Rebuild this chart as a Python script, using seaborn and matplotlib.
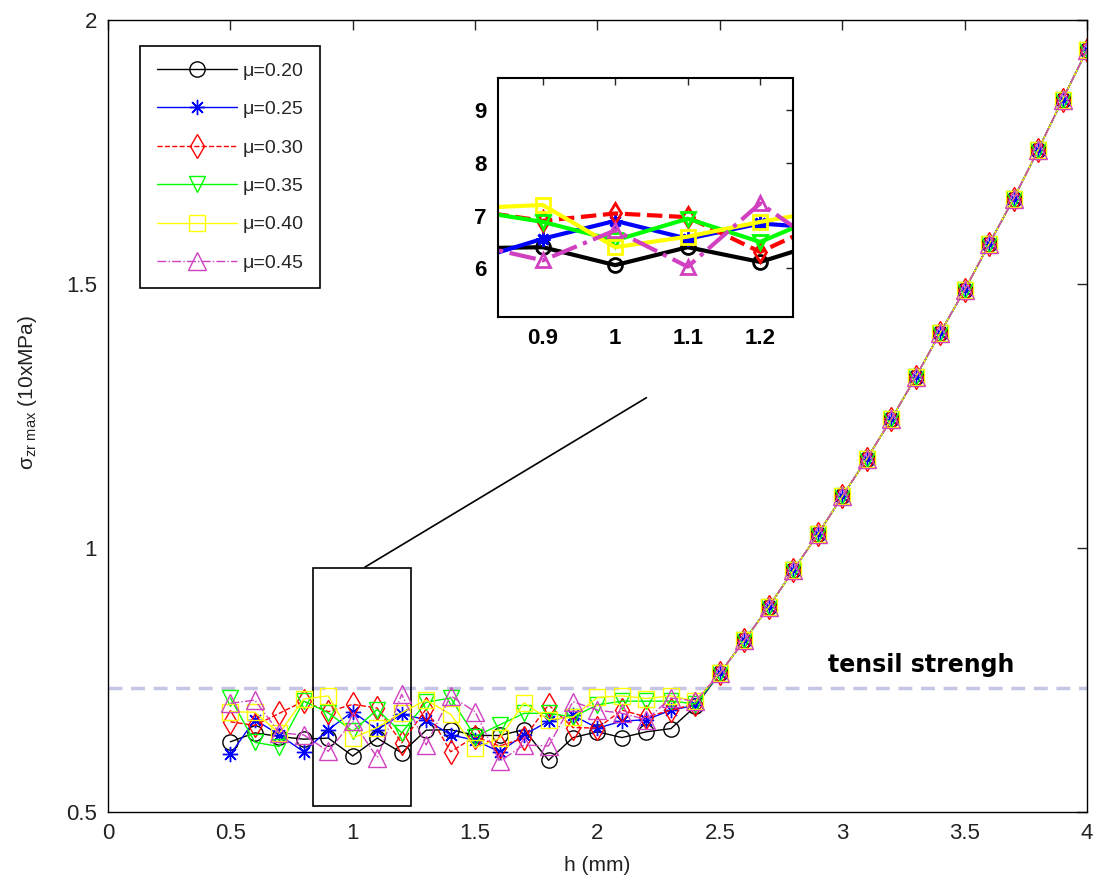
import numpy as np
import pandas as pd
import matplotlib
matplotlib.use("Agg")
import matplotlib.pyplot as plt
from matplotlib.patches import Rectangle
import seaborn as sns

# h (mm)
h_low = [0.5, 0.6, 0.7, 0.8, 0.9, 1.0, 1.1, 1.2, 1.3, 1.4,
         1.5, 1.6, 1.7, 1.8, 1.9, 2.0, 2.1, 2.2, 2.3, 2.4]
h_high = [2.5, 2.6, 2.7, 2.8, 2.9, 3.0, 3.1, 3.2, 3.3, 3.4,
          3.5, 3.6, 3.7, 3.8, 3.9, 4.0]

# shared part of all curves above h = 2.5
s_high = [0.763, 0.825, 0.889, 0.958, 1.026, 1.098, 1.169, 1.244, 1.324, 1.408,
          1.489, 1.576, 1.662, 1.754, 1.850, 1.944]

s_mu020 = [0.633, 0.650, 0.643, 0.638, 0.640, 0.606, 0.640, 0.612, 0.655, 0.656,
           0.645, 0.645, 0.656, 0.598, 0.641, 0.652, 0.641, 0.652, 0.658, 0.700]
s_mu025 = [0.609, 0.675, 0.646, 0.614, 0.656, 0.690, 0.656, 0.685, 0.675, 0.646,
           0.636, 0.614, 0.646, 0.672, 0.683, 0.659, 0.672, 0.675, 0.693, 0.702]
s_mu030 = [0.671, 0.664, 0.687, 0.710, 0.690, 0.704, 0.697, 0.631, 0.695, 0.614,
           0.643, 0.625, 0.640, 0.703, 0.660, 0.659, 0.693, 0.680, 0.693, 0.705]
s_mu035 = [0.716, 0.632, 0.624, 0.710, 0.688, 0.653, 0.694, 0.650, 0.708, 0.716,
           0.643, 0.665, 0.687, 0.687, 0.680, 0.703, 0.710, 0.710, 0.710, 0.705]
s_mu040 = [0.690, 0.689, 0.649, 0.714, 0.720, 0.640, 0.660, 0.688, 0.712, 0.685,
           0.622, 0.640, 0.707, 0.675, 0.680, 0.717, 0.720, 0.715, 0.720, 0.710]
s_mu045 = [0.706, 0.712, 0.650, 0.646, 0.615, 0.672, 0.603, 0.723, 0.627, 0.720,
           0.690, 0.596, 0.627, 0.625, 0.709, 0.693, 0.687, 0.675, 0.716, 0.710]

labels = ["μ=0.20", "μ=0.25", "μ=0.30", "μ=0.35", "μ=0.40", "μ=0.45"]
colors = ["black", "blue", "red", "#00ff00", "#ffff00", "#d040c0"]
markers = ["o", (8, 2, 0), "d", "v", "s", "^"]
styles = ["-", "-", "--", "-", "-", "-."]
msizes = [11, 11, 12, 12, 12, 13]

tensile = 0.735
zoom_x = (0.838, 1.240)
zoom_y = (0.511, 0.962)

series = [s_mu020, s_mu025, s_mu030, s_mu035, s_mu040, s_mu045]
h = h_low + h_high
df = pd.DataFrame({"h": h})
for lab, s in zip(labels, series):
    df[lab] = s + s_high

sns.set_theme(style="white")
plt.rcParams["font.family"] = ["Liberation Sans", "DejaVu Sans"]
plt.rcParams["axes.edgecolor"] = "black"
plt.rcParams["axes.linewidth"] = 1.0
plt.rcParams["mathtext.default"] = "regular"

fig = plt.figure(figsize=(10.94, 8.85), dpi=100)
ax = fig.add_axes([0.0987, 0.0825, 0.8949, 0.8945])

for lab, c, m, ls, ms in zip(labels, colors, markers, styles, msizes):
    sns.lineplot(data=df, x="h", y=lab, ax=ax, color=c, marker=m, linestyle=ls,
                 linewidth=1.0, markersize=ms, mfc="none", mec=c, mew=1.0,
                 label=lab)

ax.axhline(tensile, color="#c5c5e5", linestyle=(0, (4, 2.5)), linewidth=2.5, zorder=0)
ax.text(2.94, 0.778, "tensil strengh", fontsize=17, fontweight="bold",
        family="DejaVu Sans", color="black", ha="left", va="center")

ax.add_patch(Rectangle((zoom_x[0], zoom_y[0]), zoom_x[1] - zoom_x[0],
                       zoom_y[1] - zoom_y[0], fill=False, edgecolor="black", lw=1.2))
ax.plot([1.05, 2.20], [0.964, 1.285], color="black", lw=1.2)

ax.set_xlim(0, 4)
ax.set_ylim(0.5, 2)
ax.set_xticks(np.arange(0, 4.01, 0.5))
ax.set_xticklabels(["0", "0.5", "1", "1.5", "2", "2.5", "3", "3.5", "4"])
ax.set_yticks([0.5, 1, 1.5, 2])
ax.set_yticklabels(["0.5", "1", "1.5", "2"])
ax.tick_params(direction="in", length=7, width=1, top=True, right=True,
               labelsize=16, labelcolor="#222222", pad=8)
ax.set_xlabel("h (mm)", fontsize=15, color="#222222")
ax.set_ylabel(r"$σ_{zr\ max}$ (10xMPa)", fontsize=15, color="#222222")
ax.yaxis.set_label_coords(-0.07, 0.53)
ax.xaxis.set_label_coords(0.5, -0.055)

leg = ax.legend(loc="upper left", bbox_to_anchor=(0.033, 0.968), borderaxespad=0,
                fontsize=14, fancybox=False, framealpha=1, edgecolor="black",
                handlelength=4.1, labelspacing=1.07, borderpad=0.85, handletextpad=0.3)
leg.get_frame().set_linewidth(1.2)

# inset
axi = fig.add_axes([0.455, 0.642, 0.2697, 0.2694])
for lab, c, m, ls in zip(labels, colors, markers, styles):
    axi.plot(df["h"], df[lab] * 10, color=c, marker=m, linestyle=ls,
             linewidth=3, markersize=10, mfc="none", mec=c, mew=2)
axi.set_xlim(zoom_x[0], 1.245)
axi.set_ylim(5.08, 9.6)
axi.set_xticks([0.9, 1.0, 1.1, 1.2])
axi.set_xticklabels(["0.9", "1", "1.1", "1.2"])
axi.set_yticks([6, 7, 8, 9])
axi.tick_params(direction="in", length=5, width=1, top=True, right=True,
                labelsize=16, labelcolor="black", pad=8)
for t in axi.get_xticklabels() + axi.get_yticklabels():
    t.set_fontweight("bold")
for sp in axi.spines.values():
    sp.set_linewidth(1.5)

fig.savefig("out.png", dpi=100)
